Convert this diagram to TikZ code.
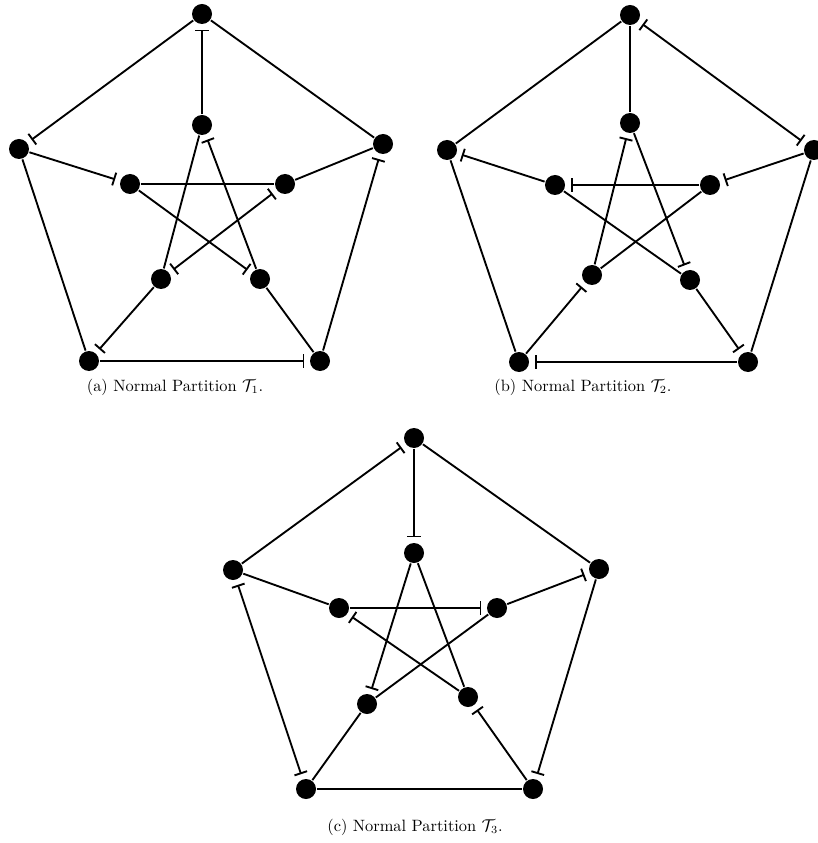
\documentclass[tikz,border=0pt]{standalone}
\usepackage{amsmath,amsfonts}
\usepackage{tikz}
\usetikzlibrary{arrows.meta}

\tikzset{
  vertex/.style={circle,fill=black,inner sep=0pt,minimum size=12.8pt},
  cut/.style={->,shorten >=3pt},
  cutboth/.style={<->,shorten >=3pt,shorten <=3pt},
  caption/.style={font=\fontsize{10.5}{13}\selectfont},
}

\begin{document}
\begin{tikzpicture}[x=0.64pt,y=-0.64pt,line width=1.2pt,
    >={Bar[width=8.5pt,line width=1.2pt]}]
   \useasboundingbox (0,0) rectangle (817,843);
   % (a)
   \node[vertex] (a_o1) at (202,14) {};
   \node[vertex] (a_o2) at (19,149) {};
   \node[vertex] (a_o3) at (89,361) {};
   \node[vertex] (a_o4) at (320,361) {};
   \node[vertex] (a_o5) at (383,144) {};
   \node[vertex] (a_i1) at (202,125) {};
   \node[vertex] (a_i2) at (285,184) {};
   \node[vertex] (a_i3) at (260,279) {};
   \node[vertex] (a_i4) at (161,279) {};
   \node[vertex] (a_i5) at (130,184) {};
    \path
    (a_o1) edge (a_o5)
           edge [cut] (a_o2)
    (a_i1) edge [cut] (a_o1)
           edge (a_i4)
    (a_o2) edge (a_o3)
           edge [cut] (a_i5)
    (a_o3) edge [cut] (a_o4)
    (a_i4) edge [cut] (a_o3)
    (a_o4) edge (a_i3)
           edge [cut] (a_o5)
    (a_o5) edge (a_i2)
    (a_i3) edge [cut] (a_i1)
    (a_i5) edge [cut] (a_i3)
           edge (a_i2)
    (a_i2) edge [cutboth] (a_i4)
    ;
   \node[caption] (capA) at (175,387) {(a) Normal Partition $\mathcal{T}_1$.};

   % (b)
   \node[vertex] (b_o1) at (630,15) {};
   \node[vertex] (b_o2) at (447,150) {};
   \node[vertex] (b_o3) at (519,362) {};
   \node[vertex] (b_o4) at (748,362) {};
   \node[vertex] (b_o5) at (814,150) {};
   \node[vertex] (b_i1) at (630,123) {};
   \node[vertex] (b_i2) at (710,185) {};
   \node[vertex] (b_i3) at (690,280) {};
   \node[vertex] (b_i4) at (592,275) {};
   \node[vertex] (b_i5) at (555,185) {};
    \path
    (b_o1) edge (b_o2)
           edge (b_i1)
           edge [cutboth] (b_o5)
    (b_o2) edge (b_o3)
    (b_i5) edge [cut] (b_o2)
           edge (b_i3)
    (b_o4) edge [cut] (b_o3)
           edge (b_o5)
    (b_o3) edge [cut] (b_i4)
    (b_i3) edge [cut] (b_o4)
    (b_o5) edge [cut] (b_i2)
    (b_i4) edge [cut] (b_i1)
    (b_i1) edge [cut] (b_i3)
    (b_i2) edge [cut] (b_i5)
           edge (b_i4)
    ;
   \node[caption] (capB) at (583,387) {(b) Normal Partition $\mathcal{T}_2$.};

   % (c)
   \node[vertex] (c_o1) at (414,438) {};
   \node[vertex] (c_o2) at (233,570) {};
   \node[vertex] (c_o3) at (306,789) {};
   \node[vertex] (c_o4) at (533,789) {};
   \node[vertex] (c_o5) at (599,569) {};
   \node[vertex] (c_i1) at (414,553) {};
   \node[vertex] (c_i2) at (497,608) {};
   \node[vertex] (c_i3) at (468,697) {};
   \node[vertex] (c_i4) at (367,704) {};
   \node[vertex] (c_i5) at (339,608) {};
    \path
    (c_o1) edge (c_o5)
           edge [cut] (c_i1)
    (c_o2) edge [cut] (c_o1)
           edge (c_i5)
           edge [cutboth] (c_o3)
    (c_o3) edge (c_o4)
           edge (c_i4)
    (c_o4) edge [cut] (c_i3)
    (c_o5) edge [cut] (c_o4)
    (c_i2) edge [cut] (c_o5)
           edge (c_i4)
    (c_i1) edge [cut] (c_i4)
           edge (c_i3)
    (c_i5) edge [cut] (c_i2)
    (c_i3) edge [cut] (c_i5)
    ;
   \node[caption] (capC) at (415,827) {(c) Normal Partition $\mathcal{T}_3$.};
\end{tikzpicture}
\end{document}
